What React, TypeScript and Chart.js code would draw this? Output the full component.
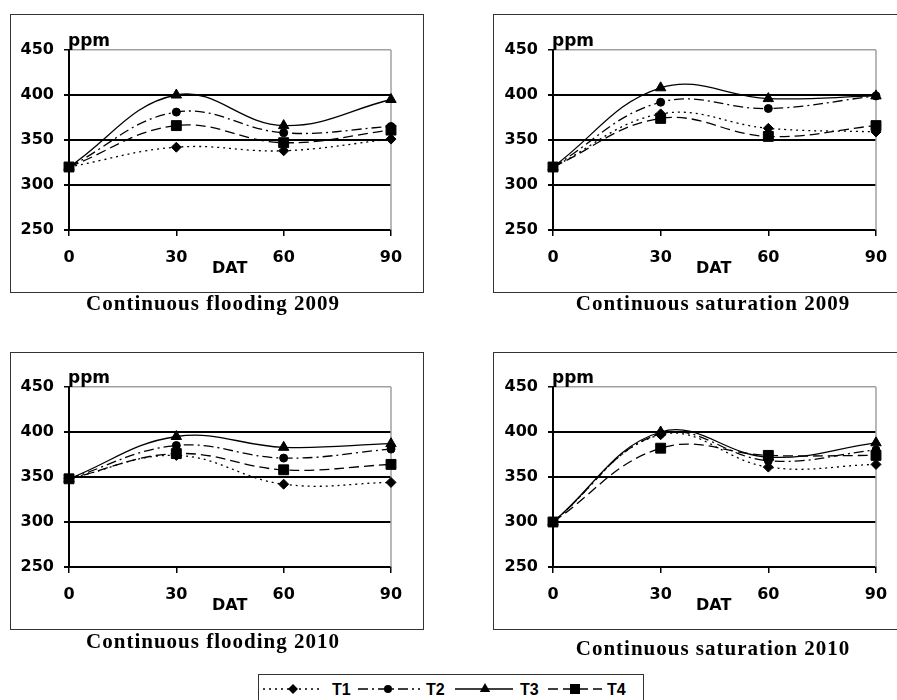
import React, { useEffect, useRef } from "react";
import { Chart, registerables } from "chart.js";
Chart.register(...registerables);

// ---------- data ----------
const DAT = [0, 30, 60, 90];
const Y_TICKS = [250, 300, 350, 400, 450];
const SERIES_NAMES = ["T1", "T2", "T3", "T4"];

const flood2009_T1 = [320, 342, 338, 351];
const flood2009_T2 = [320, 381, 358, 365];
const flood2009_T3 = [320, 400, 366, 395];
const flood2009_T4 = [320, 366, 347, 361];

const sat2009_T1 = [320, 379, 363, 359];
const sat2009_T2 = [320, 392, 385, 399];
const sat2009_T3 = [320, 408, 396, 399];
const sat2009_T4 = [320, 374, 354, 366];

const flood2010_T1 = [348, 374, 342, 344];
const flood2010_T2 = [348, 385, 371, 381];
const flood2010_T3 = [348, 395, 383, 387];
const flood2010_T4 = [348, 376, 358, 364];

const sat2010_T1 = [300, 397, 361, 364];
const sat2010_T2 = [300, 398, 368, 380];
const sat2010_T3 = [300, 400, 372, 388];
const sat2010_T4 = [300, 382, 374, 374];

const TITLES = [
  "Continuous flooding 2009",
  "Continuous saturation 2009",
  "Continuous flooding 2010",
  "Continuous saturation 2010",
];

// ---------- styles ----------
const STYLES = [
  { dash: [2, 4], point: "rectRot", r: 5 },
  { dash: [10, 4, 2, 4], point: "circle", r: 4 },
  { dash: [], point: "triangle", r: 6 },
  { dash: [10, 5], point: "rect", r: 7 },
];

const TICK_FONT = { family: "'DejaVu Sans', sans-serif", size: 16, weight: "bold" as const };
const Y_W = 50;

type PanelCfg = {
  series: number[][];
  title: string;
  box: { left: number; top: number; w: number; h: number };
  area: { left: number; right: number; top: number; bottom: number };
  titleX: number;
  titleBase: number;
};

const PANELS: PanelCfg[] = [
  {
    series: [flood2009_T1, flood2009_T2, flood2009_T3, flood2009_T4],
    title: TITLES[0],
    box: { left: 10, top: 14, w: 414, h: 279 },
    area: { left: 59, right: 381, top: 36, bottom: 216 },
    titleX: 213,
    titleBase: 311,
  },
  {
    series: [sat2009_T1, sat2009_T2, sat2009_T3, sat2009_T4],
    title: TITLES[1],
    box: { left: 493, top: 14, w: 410, h: 279 },
    area: { left: 60, right: 383, top: 36, bottom: 216 },
    titleX: 713,
    titleBase: 311,
  },
  {
    series: [flood2010_T1, flood2010_T2, flood2010_T3, flood2010_T4],
    title: TITLES[2],
    box: { left: 10, top: 352, w: 414, h: 278 },
    area: { left: 59, right: 381, top: 35, bottom: 215 },
    titleX: 213,
    titleBase: 649,
  },
  {
    series: [sat2010_T1, sat2010_T2, sat2010_T3, sat2010_T4],
    title: TITLES[3],
    box: { left: 493, top: 352, w: 410, h: 278 },
    area: { left: 60, right: 383, top: 35, bottom: 215 },
    titleX: 713,
    titleBase: 656,
  },
];

const framePlugin = {
  id: "frame",
  beforeDatasetsDraw(chart: any) {
    const { ctx, chartArea: a } = chart;
    ctx.save();
    ctx.strokeStyle = "#a0a0a0";
    ctx.lineWidth = 1.5;
    ctx.beginPath();
    ctx.moveTo(a.right, a.top);
    ctx.lineTo(a.right, a.bottom);
    ctx.stroke();
    ctx.restore();
  },
};

function Panel({ cfg }: { cfg: PanelCfg }) {
  const ref = useRef<HTMLCanvasElement | null>(null);
  useEffect(() => {
    if (!ref.current) return;
    const { box, area } = cfg;
    const chart = new Chart(ref.current, {
      type: "line",
      data: {
        datasets: cfg.series.map((vals, i) => ({
          label: SERIES_NAMES[i],
          data: DAT.map((x, j) => ({ x, y: vals[j] })),
          borderColor: "#000",
          backgroundColor: "#000",
          borderWidth: 1.3,
          borderDash: STYLES[i].dash,
          pointStyle: STYLES[i].point as any,
          pointRadius: STYLES[i].r,
          pointBackgroundColor: "#000",
          pointBorderColor: "#000",
          pointBorderWidth: 1,
          tension: 0.4,
          fill: false,
          clip: false as any,
        })),
      },
      options: {
        responsive: false,
        maintainAspectRatio: false,
        animation: false,
        events: [],
        layout: {
          autoPadding: false,
          padding: { left: area.left - Y_W, right: box.w - area.right, top: area.top, bottom: 0 },
        },
        plugins: {
          legend: { display: false },
          tooltip: { enabled: false },
          title: { display: false },
        },
        scales: {
          x: {
            type: "linear",
            min: 0,
            max: 90,
            afterBuildTicks: (s: any) => {
              s.ticks = DAT.map((v) => ({ value: v }));
            },
            afterFit: (s: any) => {
              s.height = box.h - area.bottom;
            },
            grid: { drawOnChartArea: false, drawTicks: true, tickLength: 6, color: "#000", lineWidth: 1.5 },
            border: { color: "#000", width: 2 },
            ticks: { font: TICK_FONT, color: "#000", padding: 12, maxRotation: 0, autoSkip: false },
          },
          y: {
            type: "linear",
            min: 250,
            max: 450,
            afterBuildTicks: (s: any) => {
              s.ticks = Y_TICKS.map((v) => ({ value: v }));
            },
            afterFit: (s: any) => {
              s.width = Y_W;
            },
            grid: {
              color: (c: any) => (c.tick && c.tick.value === 450 ? "#a0a0a0" : "#000"),
              lineWidth: (c: any) => (c.tick && c.tick.value === 450 ? 1.5 : 2),
              tickColor: "#000",
              tickLength: 5,
            },
            border: { color: "#000", width: 2 },
            ticks: { font: TICK_FONT, color: "#000", padding: 10 },
          },
        },
      },
      plugins: [framePlugin],
    } as any);
    return () => chart.destroy();
  }, [cfg]);

  const { box, area } = cfg;
  const sansBold = "'DejaVu Sans', sans-serif";
  return (
    <>
      <div
        style={{
          position: "absolute",
          left: box.left,
          top: box.top,
          width: box.w,
          height: box.h,
          border: "1px solid #333",
          boxSizing: "border-box",
        }}
      />
      <canvas
        ref={ref}
        width={box.w}
        height={box.h}
        style={{ position: "absolute", left: box.left, top: box.top, width: box.w, height: box.h }}
      />
      <div
        style={{
          position: "absolute",
          left: box.left + area.left - 1,
          top: box.top + area.top - 18.5,
          font: `bold 17px ${sansBold}`,
          lineHeight: "17px",
          whiteSpace: "nowrap",
        }}
      >
        ppm
      </div>
      <div
        style={{
          position: "absolute",
          left: box.left + area.left + 143,
          top: box.top + area.bottom + 29.5,
          font: `bold 16px ${sansBold}`,
          lineHeight: "16px",
          whiteSpace: "nowrap",
        }}
      >
        DAT
      </div>
      <div
        style={{
          position: "absolute",
          left: cfg.titleX - 200,
          width: 400,
          top: cfg.titleBase - 18,
          textAlign: "center",
          font: "bold 21px 'Liberation Serif', 'Times New Roman', serif",
          letterSpacing: "1px",
          lineHeight: "21px",
          whiteSpace: "nowrap",
        }}
      >
        {cfg.title}
      </div>
    </>
  );
}

function Marker({ kind, cx, cy }: { kind: string; cx: number; cy: number }) {
  if (kind === "rectRot")
    return <polygon points={`${cx},${cy - 5} ${cx + 5},${cy} ${cx},${cy + 5} ${cx - 5},${cy}`} fill="#000" />;
  if (kind === "circle") return <circle cx={cx} cy={cy} r={4} fill="#000" />;
  if (kind === "triangle")
    return <polygon points={`${cx},${cy - 6} ${cx + 5.2},${cy + 3} ${cx - 5.2},${cy + 3}`} fill="#000" />;
  return <rect x={cx - 5} y={cy - 5} width={10} height={10} fill="#000" />;
}

const LEG_SAMPLES = [
  { x1: 5, x2: 64, m: 35, t: 74 },
  { x1: 100, x2: 162, m: 130, t: 168 },
  { x1: 197, x2: 255, m: 227, t: 262 },
  { x1: 290, x2: 344, m: 317, t: 349 },
];

function Legend() {
  return (
    <div
      style={{
        position: "absolute",
        left: 258,
        top: 674,
        width: 386,
        height: 32,
        border: "1px solid #333",
        boxSizing: "border-box",
      }}
    >
      <svg width={386} height={30} style={{ position: "absolute", left: -1, top: -1 }}>
        {LEG_SAMPLES.map((s, i) => (
          <g key={i}>
            <line
              x1={s.x1}
              x2={s.x2}
              y1={15}
              y2={15}
              stroke="#000"
              strokeWidth={1.5}
              strokeDasharray={STYLES[i].dash.length ? STYLES[i].dash.join(" ") : undefined}
            />
            <Marker kind={STYLES[i].point} cx={s.m} cy={15} />
          </g>
        ))}
      </svg>
      {LEG_SAMPLES.map((s, i) => (
        <span
          key={i}
          style={{
            position: "absolute",
            left: s.t - 1,
            top: 7,
            font: "bold 16px 'Liberation Sans', Arial, sans-serif",
            lineHeight: "16px",
          }}
        >
          {SERIES_NAMES[i]}
        </span>
      ))}
    </div>
  );
}

export default function App() {
  return (
    <div
      style={{
        position: "absolute",
        left: 0,
        top: 0,
        width: 897,
        height: 700,
        overflow: "hidden",
        background: "#fff",
        color: "#000",
      }}
    >
      {PANELS.map((p, i) => (
        <Panel key={i} cfg={p} />
      ))}
      <Legend />
    </div>
  );
}
